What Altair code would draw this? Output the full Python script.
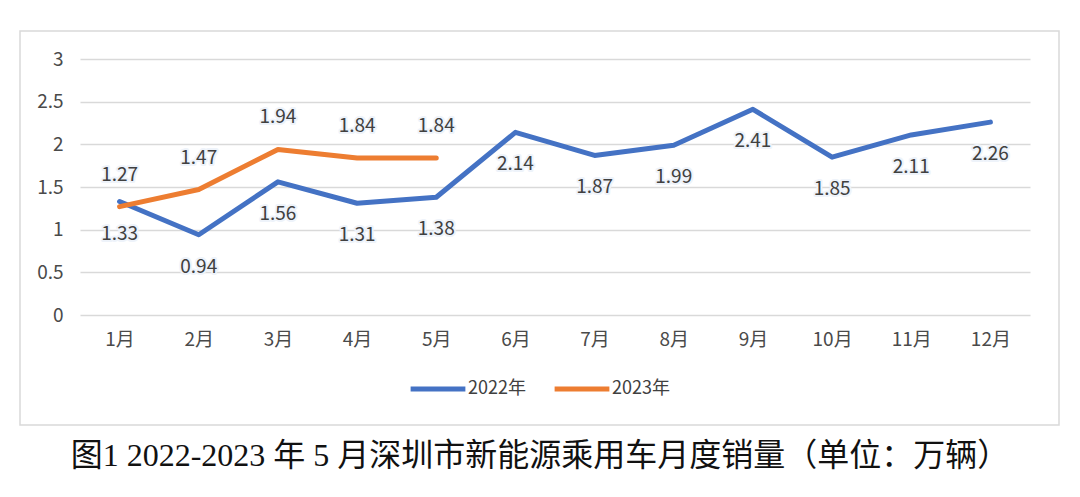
import altair as alt
import pandas as pd

months = ["1月", "2月", "3月", "4月", "5月", "6月", "7月", "8月", "9月", "10月", "11月", "12月"]
sales_2022 = [1.33, 0.94, 1.56, 1.31, 1.38, 2.14, 1.87, 1.99, 2.41, 1.85, 2.11, 2.26]
sales_2023 = [1.27, 1.47, 1.94, 1.84, 1.84]
series = ["2022年", "2023年"]
y_ticks = [0, 0.5, 1, 1.5, 2, 2.5, 3]
caption = "图1 2022-2023 年 5 月深圳市新能源乘用车月度销量（单位：万辆）"

rows = []
for m, v in zip(months, sales_2022):
    rows.append({"month": m, "year": series[0], "value": v, "label": f"{v:.2f}"})
for m, v in zip(months, sales_2023):
    rows.append({"month": m, "year": series[1], "value": v, "label": f"{v:.2f}"})
df = pd.DataFrame(rows)

FONT = "Noto Sans CJK SC"
colors = ["#4472C4", "#ED7D31"]

x_enc = alt.X("month:N", sort=months, title=None,
              scale=alt.Scale(domain=months),
              axis=alt.Axis(labelAngle=0, labelFontSize=19, labelColor="#4a4a4a",
                            labelFont=FONT, domain=False, ticks=False, labelPadding=15))
y_enc = alt.Y("value:Q", title=None,
              scale=alt.Scale(domain=[0, 3], nice=False),
              axis=alt.Axis(values=y_ticks, format="~g", labelFontSize=19, labelColor="#4a4a4a",
                            labelFont=FONT, domain=False, ticks=False, labelPadding=17,
                            gridColor="#d9d9d9", gridWidth=1.5))

frame = alt.Chart(pd.DataFrame({"k": [0]})).mark_rect(
    fill="transparent", stroke="#d9d9d9", strokeWidth=1.5
).encode(x=alt.value(-60), x2=alt.value(979), y=alt.value(-28), y2=alt.value(366))

lines = alt.Chart(df).mark_line(strokeWidth=5, strokeCap="round", strokeJoin="round").encode(
    x=x_enc, y=y_enc,
    color=alt.Color("year:N", sort=series,
                    scale=alt.Scale(domain=series, range=colors),
                    legend=alt.Legend(title=None, orient="none", direction="horizontal",
                                      legendX=328, legendY=300,
                                      symbolType="stroke", symbolSize=3000, symbolStrokeWidth=5,
                                      labelFontSize=18, labelColor="#404040", labelFont=FONT,
                                      labelOffset=0, columnPadding=18)),
)

def labels(year, dy):
    base = alt.Chart(df).transform_filter(alt.datum.year == year).encode(
        x=alt.X("month:N", sort=months), y="value:Q", text="label:N")
    halo = base.mark_text(dy=dy, fontSize=19, font=FONT, stroke="#eef3fa",
                          strokeWidth=4, strokeJoin="round", fill="#eef3fa")
    txt = base.mark_text(dy=dy, fontSize=19, font=FONT, fill="#404040")
    return halo + txt

cap = alt.Chart(pd.DataFrame({"t": [caption]})).mark_text(
    fontSize=32, font="Liberation Serif, Noto Sans CJK SC", fill="#111111", align="center",
    baseline="middle"
).encode(x=alt.value(460), y=alt.value(397), text="t:N")

chart = alt.layer(frame, lines, labels(series[0], 32), labels(series[1], -32), cap).properties(
    width=950, height=256,
    autosize=alt.AutoSizeParams(type="none"),
    padding={"left": 72, "top": 51, "right": 42, "bottom": 170},
    background="white",
).configure_view(stroke=None)

chart.save("out.html", embed_options={"renderer": "svg", "actions": False})
